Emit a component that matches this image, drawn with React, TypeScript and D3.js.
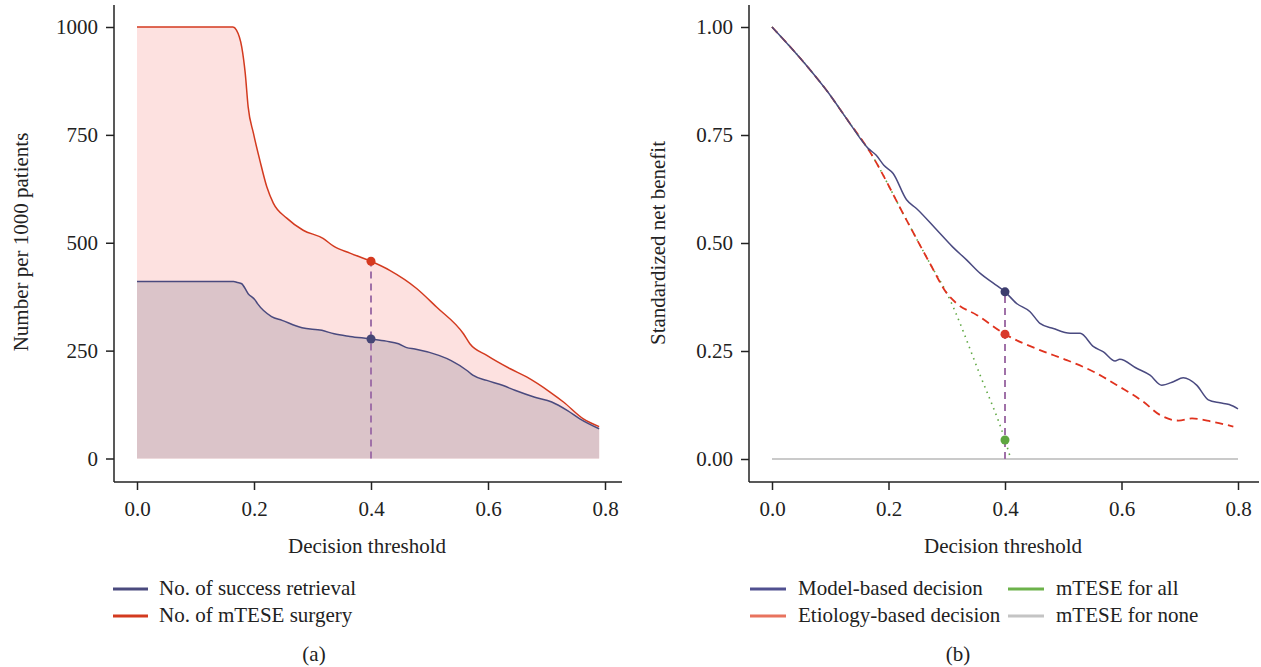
import React, { useEffect, useRef } from 'react';
import * as d3 from 'd3';

// panel (a): number per 1000 patients, [threshold, value]
const surgery: [number, number][] = [
  [0, 1000], [0.164, 1000], [0.17, 993], [0.179, 954], [0.185, 893], [0.19, 815], [0.199, 754],
  [0.21, 691], [0.222, 629], [0.233, 592], [0.256, 557], [0.284, 529], [0.318, 510], [0.336, 492],
  [0.364, 476], [0.4, 457], [0.432, 436], [0.478, 394], [0.512, 351], [0.558, 289], [0.569, 266],
  [0.598, 239], [0.638, 208], [0.666, 189], [0.706, 154], [0.729, 131], [0.763, 92], [0.79, 74],
];
const retrieval: [number, number][] = [
  [0, 410], [0.165, 410], [0.172, 408], [0.179, 405], [0.19, 382], [0.202, 367], [0.206, 359],
  [0.23, 329], [0.248, 320], [0.282, 303], [0.316, 297], [0.337, 289], [0.364, 283], [0.4, 277],
  [0.426, 272], [0.447, 266], [0.461, 257], [0.475, 254], [0.516, 239], [0.537, 227], [0.564, 204],
  [0.574, 193], [0.598, 181], [0.626, 169], [0.646, 158], [0.68, 142], [0.709, 131], [0.736, 111],
  [0.757, 92], [0.79, 69],
];

// panel (b): standardized net benefit
const modelBased: [number, number][] = [
  [0, 1.0], [0.061, 0.908], [0.0955, 0.85], [0.13, 0.784], [0.165, 0.719], [0.179, 0.703],
  [0.192, 0.68], [0.208, 0.661], [0.231, 0.6], [0.248, 0.58], [0.283, 0.53], [0.31, 0.491],
  [0.334, 0.461], [0.358, 0.429], [0.38, 0.407], [0.4, 0.387], [0.42, 0.36], [0.443, 0.341],
  [0.46, 0.314], [0.483, 0.302], [0.512, 0.291], [0.529, 0.291], [0.552, 0.26], [0.569, 0.248],
  [0.589, 0.227], [0.597, 0.231], [0.626, 0.21], [0.649, 0.194], [0.669, 0.171], [0.689, 0.179],
  [0.706, 0.188], [0.729, 0.171], [0.749, 0.137], [0.769, 0.13], [0.785, 0.126], [0.8, 0.116],
];
const etiologyBased: [number, number][] = [
  [0, 1.0], [0.061, 0.908], [0.0955, 0.85], [0.13, 0.784], [0.168, 0.711], [0.231, 0.553],
  [0.271, 0.453], [0.3, 0.384], [0.317, 0.36], [0.352, 0.333], [0.4, 0.289], [0.46, 0.252],
  [0.506, 0.229], [0.552, 0.202], [0.597, 0.167], [0.637, 0.133], [0.666, 0.102], [0.698, 0.089],
  [0.721, 0.094], [0.75, 0.088], [0.792, 0.075],
];
const treatAll: [number, number][] = [
  [0, 1.0], [0.061, 0.908], [0.0955, 0.85], [0.13, 0.784], [0.168, 0.711], [0.231, 0.553],
  [0.271, 0.453], [0.3, 0.384], [0.357, 0.195], [0.4, 0.044], [0.41, 0],
];
const treatNone: [number, number][] = [[0, 0], [0.8, 0]];

const xTicks = [0, 0.2, 0.4, 0.6, 0.8];
const leftYTicks = [0, 250, 500, 750, 1000];
const rightYTicks = [0, 0.25, 0.5, 0.75, 1];

const leftLegend = [
  { label: 'No. of success retrieval', color: '#4a4a7e' },
  { label: 'No. of mTESE surgery', color: '#d33a1f' },
];
const rightLegend = [
  { label: 'Model-based decision', color: '#505090' },
  { label: 'Etiology-based decision', color: '#e8735e' },
  { label: 'mTESE for all', color: '#6cb24a' },
  { label: 'mTESE for none', color: '#c4c4c4' },
];

const FONT = '"Liberation Serif", "DejaVu Serif", serif';

function App() {
  const svgRef = useRef<SVGSVGElement>(null);

  useEffect(() => {
    if (!svgRef.current) return;
    const svg = d3.select(svgRef.current);
    svg.selectAll('*').remove();
    svg.attr('font-family', FONT);

    const line = (x: any, y: any) =>
      d3.line<[number, number]>().x(d => x(d[0])).y(d => y(d[1])).curve(d3.curveMonotoneX);
    const area = (x: any, y: any) =>
      d3.area<[number, number]>().x(d => x(d[0])).y0(y(0)).y1(d => y(d[1])).curve(d3.curveMonotoneX);

    const drawAxes = (x: any, y: any, axisX: number, xEnd: number, yFmt: any) => {
      const gx = svg.append('g').attr('transform', `translate(0,482)`)
        .call(d3.axisBottom(x).tickValues(xTicks).tickSize(8).tickPadding(11).tickFormat(d3.format('.1f')));
      gx.select('.domain').remove();
      const gy = svg.append('g').attr('transform', `translate(${axisX},0)`)
        .call(d3.axisLeft(y).tickValues(y.domain()[1] > 1 ? leftYTicks : rightYTicks).tickSize(8).tickPadding(8).tickFormat(yFmt));
      gy.select('.domain').remove();
      [gx, gy].forEach(g => {
        g.selectAll('text').attr('font-size', 21).attr('fill', '#222').attr('font-family', FONT);
        g.selectAll('line').attr('stroke', '#222').attr('stroke-width', 1.5);
      });
      svg.append('line').attr('x1', axisX).attr('x2', axisX).attr('y1', 5).attr('y2', 482)
        .attr('stroke', '#222').attr('stroke-width', 1.5);
      svg.append('line').attr('x1', axisX).attr('x2', xEnd).attr('y1', 482).attr('y2', 482)
        .attr('stroke', '#222').attr('stroke-width', 1.5);
    };

    // ---------- panel (a)
    const xa = d3.scaleLinear().domain([0, 0.8]).range([137, 605]);
    const ya = d3.scaleLinear().domain([0, 1000]).range([458.5, 27]);

    svg.append('path').datum(surgery).attr('fill', '#fde1e0').attr('d', area(xa, ya));
    svg.append('path').datum(retrieval).attr('fill', '#dbc4c9').attr('d', area(xa, ya));
    svg.append('path').datum(surgery).attr('fill', 'none').attr('stroke', '#d33a1f')
      .attr('stroke-width', 1.5).attr('d', line(xa, ya));
    svg.append('path').datum(retrieval).attr('fill', 'none').attr('stroke', '#4a4a7e')
      .attr('stroke-width', 1.5).attr('d', line(xa, ya));

    const surg04 = surgery.find(d => d[0] === 0.4)![1];
    const ret04 = retrieval.find(d => d[0] === 0.4)![1];
    svg.append('line').attr('x1', xa(0.4)).attr('x2', xa(0.4)).attr('y1', ya(0)).attr('y2', ya(surg04))
      .attr('stroke', '#a071a8').attr('stroke-width', 2).attr('stroke-dasharray', '7,5');
    svg.append('circle').attr('cx', xa(0.4)).attr('cy', ya(surg04)).attr('r', 4.5).attr('fill', '#d6391f');
    svg.append('circle').attr('cx', xa(0.4)).attr('cy', ya(ret04)).attr('r', 4.5).attr('fill', '#464676');

    drawAxes(xa, ya, 114, 622, d3.format('d'));

    // ---------- panel (b)
    const xb = d3.scaleLinear().domain([0, 0.8]).range([772, 1238]);
    const yb = d3.scaleLinear().domain([0, 1]).range([459, 27]);

    svg.append('path').datum(treatNone).attr('fill', 'none').attr('stroke', '#b8b8b8')
      .attr('stroke-width', 1.5).attr('d', line(xb, yb));
    svg.append('path').datum(treatAll).attr('fill', 'none').attr('stroke', '#5fa843')
      .attr('stroke-width', 1.6).attr('stroke-dasharray', '1.5,4.5').attr('d', line(xb, yb));
    svg.append('path').datum(etiologyBased).attr('fill', 'none').attr('stroke', '#e0321e')
      .attr('stroke-width', 1.8).attr('stroke-dasharray', '8,5').attr('d', line(xb, yb));
    svg.append('path').datum(modelBased).attr('fill', 'none').attr('stroke', '#4a4a80')
      .attr('stroke-width', 1.5).attr('d', line(xb, yb));

    const m04 = modelBased.find(d => d[0] === 0.4)![1];
    const e04 = etiologyBased.find(d => d[0] === 0.4)![1];
    const a04 = treatAll.find(d => d[0] === 0.4)![1];
    svg.append('line').attr('x1', xb(0.4)).attr('x2', xb(0.4)).attr('y1', yb(0)).attr('y2', yb(m04))
      .attr('stroke', '#a071a8').attr('stroke-width', 2).attr('stroke-dasharray', '7,5');
    svg.append('circle').attr('cx', xb(0.4)).attr('cy', yb(m04)).attr('r', 4.5).attr('fill', '#3d3d6e');
    svg.append('circle').attr('cx', xb(0.4)).attr('cy', yb(e04)).attr('r', 4.5).attr('fill', '#d93a2c');
    svg.append('circle').attr('cx', xb(0.4)).attr('cy', yb(a04)).attr('r', 4.5).attr('fill', '#5ea640');

    drawAxes(xb, yb, 749, 1259, d3.format('.2f'));

    // ---------- titles
    const text = (x: number, y: number, s: string, anchor = 'middle', rotate = false) => {
      const t = svg.append('text').attr('x', x).attr('y', y).attr('text-anchor', anchor)
        .attr('font-size', 21).attr('fill', '#222').text(s);
      if (rotate) t.attr('transform', `rotate(-90,${x},${y})`).attr('dominant-baseline', 'central');
      return t;
    };
    text(21, 242, 'Number per 1000 patients', 'middle', true);
    text(658, 243, 'Standardized net benefit', 'middle', true);
    text(367, 553, 'Decision threshold');
    text(1003, 553, 'Decision threshold');
    text(314, 661, '(a)');
    text(958, 661, '(b)');

    // ---------- legends
    const rows = [589, 616];
    leftLegend.forEach((d, i) => {
      svg.append('line').attr('x1', 113).attr('x2', 148).attr('y1', rows[i]).attr('y2', rows[i])
        .attr('stroke', d.color).attr('stroke-width', 3);
      text(159, rows[i] + 6, d.label, 'start');
    });
    const cols = [750, 1008];
    rightLegend.forEach((d, i) => {
      const cx = cols[Math.floor(i / 2)];
      const cy = rows[i % 2];
      svg.append('line').attr('x1', cx).attr('x2', cx + 36).attr('y1', cy).attr('y2', cy)
        .attr('stroke', d.color).attr('stroke-width', 3);
      text(cx + 48, cy + 6, d.label, 'start');
    });
  }, []);

  return (
    <svg ref={svgRef} width={1261} height={667}
      style={{ position: 'absolute', left: 0, top: 0, background: '#fff' }} />
  );
}

export default App;
